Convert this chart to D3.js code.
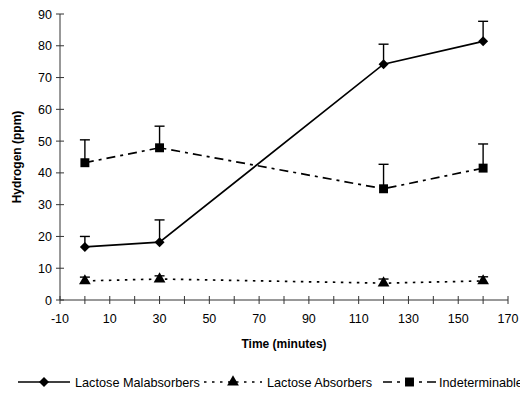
<!DOCTYPE html>
<html>
<head>
<meta charset="utf-8">
<script src="https://cdn.jsdelivr.net/npm/d3@7"></script>
<style>
  body { margin: 0; background: #fff; }
  text { font-family: "Liberation Sans", Arial, sans-serif; fill: #000; }
</style>
</head>
<body>
<svg id="chart" width="520" height="394"></svg>
<script>
// dati
const times = [0, 30, 120, 160];
const malabsorbers = [16.7, 18.2, 74.2, 81.4];
const malabsorbersErr = [3.3, 7.0, 6.3, 6.3];
const absorbers = [6.0, 6.6, 5.3, 6.0];
const absorbersErr = [1.2, 1.0, 1.3, 1.3];
const indeterminable = [43.2, 47.9, 35.0, 41.5];
const indeterminableErr = [7.2, 6.8, 7.7, 7.6];
const xTicks = [-10, 10, 30, 50, 70, 90, 110, 130, 150, 170];
const yTicks = [0, 10, 20, 30, 40, 50, 60, 70, 80, 90];
const seriesNames = ['Lactose Malabsorbers', 'Lactose Absorbers', 'Indeterminable'];

const svg = d3.select('#chart');

const x = d3.scaleLinear().domain([-10, 170]).range([60, 508]);
const y = d3.scaleLinear().domain([0, 90]).range([300, 14]);

// assi
const axisColor = '#333';
svg.append('line')
    .attr('x1', x(-10)).attr('x2', x(-10))
    .attr('y1', y(0)).attr('y2', y(90))
    .style('stroke', axisColor).style('stroke-width', 1);
svg.append('line')
    .attr('x1', x(-10)).attr('x2', x(170))
    .attr('y1', y(0)).attr('y2', y(0))
    .style('stroke', axisColor).style('stroke-width', 1);

// tacche Y
yTicks.forEach(t => {
    svg.append('line')
        .attr('x1', x(-10) - 4).attr('x2', x(-10) + 4)
        .attr('y1', y(t)).attr('y2', y(t))
        .style('stroke', axisColor);
    svg.append('text')
        .attr('x', x(-10) - 8).attr('y', y(t) + 4.5)
        .style('text-anchor', 'end')
        .style('font-size', '12.5px')
        .text(t);
});

// tacche X (ogni 10)
d3.range(-10, 171, 10).forEach(t => {
    svg.append('line')
        .attr('x1', x(t)).attr('x2', x(t))
        .attr('y1', y(0) - 4).attr('y2', y(0) + 4)
        .style('stroke', axisColor);
});
xTicks.forEach(t => {
    svg.append('text')
        .attr('x', x(t)).attr('y', y(0) + 23)
        .style('text-anchor', 'middle')
        .style('font-size', '12.5px')
        .text(t);
});

// titoli assi
svg.append('text')
    .attr('x', 284).attr('y', 348)
    .style('text-anchor', 'middle')
    .style('font-size', '12px')
    .style('font-weight', 'bold')
    .text('Time (minutes)');
svg.append('text')
    .attr('transform', `translate(21, ${y(45)}) rotate(-90)`)
    .style('text-anchor', 'middle')
    .style('font-size', '12px')
    .style('font-weight', 'bold')
    .text('Hydrogen (ppm)');

const line = d3.line().x(d => x(d.t)).y(d => y(d.v));

const series = [
    { vals: malabsorbers, err: malabsorbersErr, dash: null, sym: d3.symbolSquare, size: 50, rot: 45 },
    { vals: absorbers, err: absorbersErr, dash: '2.5,5.5', sym: d3.symbolTriangle, size: 60, rot: 0 },
    { vals: indeterminable, err: indeterminableErr, dash: '9,5,3,5', sym: d3.symbolSquare, size: 80, rot: 0 }
];

series.forEach(s => {
    const pts = times.map((t, i) => ({ t: t, v: s.vals[i], e: s.err[i] }));

    // barre di errore (solo verso l'alto)
    pts.forEach(p => {
        svg.append('line')
            .attr('x1', x(p.t)).attr('x2', x(p.t))
            .attr('y1', y(p.v)).attr('y2', y(p.v + p.e))
            .style('stroke', '#000').style('stroke-width', 1.4);
        svg.append('line')
            .attr('x1', x(p.t) - 5).attr('x2', x(p.t) + 5)
            .attr('y1', y(p.v + p.e)).attr('y2', y(p.v + p.e))
            .style('stroke', '#000').style('stroke-width', 1.4);
    });

    svg.append('path')
        .datum(pts)
        .attr('d', line)
        .style('fill', 'none')
        .style('stroke', '#000')
        .style('stroke-width', 1.7)
        .style('stroke-dasharray', s.dash);

    svg.selectAll(null)
        .data(pts)
        .enter()
        .append('path')
        .attr('d', d3.symbol().type(s.sym).size(s.size))
        .attr('transform', d => `translate(${x(d.t)}, ${y(d.v)}) rotate(${s.rot})`)
        .style('fill', '#000');
});

// legenda
const legendY = 382;
const legendItems = [
    { x1: 18, x2: 70, text: 75 },
    { x1: 204, x2: 262, text: 267 },
    { x1: 383, x2: 436, text: 439 }
];
legendItems.forEach((it, i) => {
    const s = series[i];
    svg.append('line')
        .attr('x1', it.x1).attr('x2', it.x2)
        .attr('y1', legendY).attr('y2', legendY)
        .style('stroke', '#000')
        .style('stroke-width', 1.7)
        .style('stroke-dasharray', s.dash);
    svg.append('path')
        .attr('d', d3.symbol().type(s.sym).size(s.size))
        .attr('transform', `translate(${(it.x1 + it.x2) / 2}, ${legendY}) rotate(${s.rot})`)
        .style('fill', '#000');
    svg.append('text')
        .attr('x', it.text).attr('y', legendY + 4.5)
        .style('font-size', '12.7px')
        .text(seriesNames[i]);
});
</script>
</body>
</html>
